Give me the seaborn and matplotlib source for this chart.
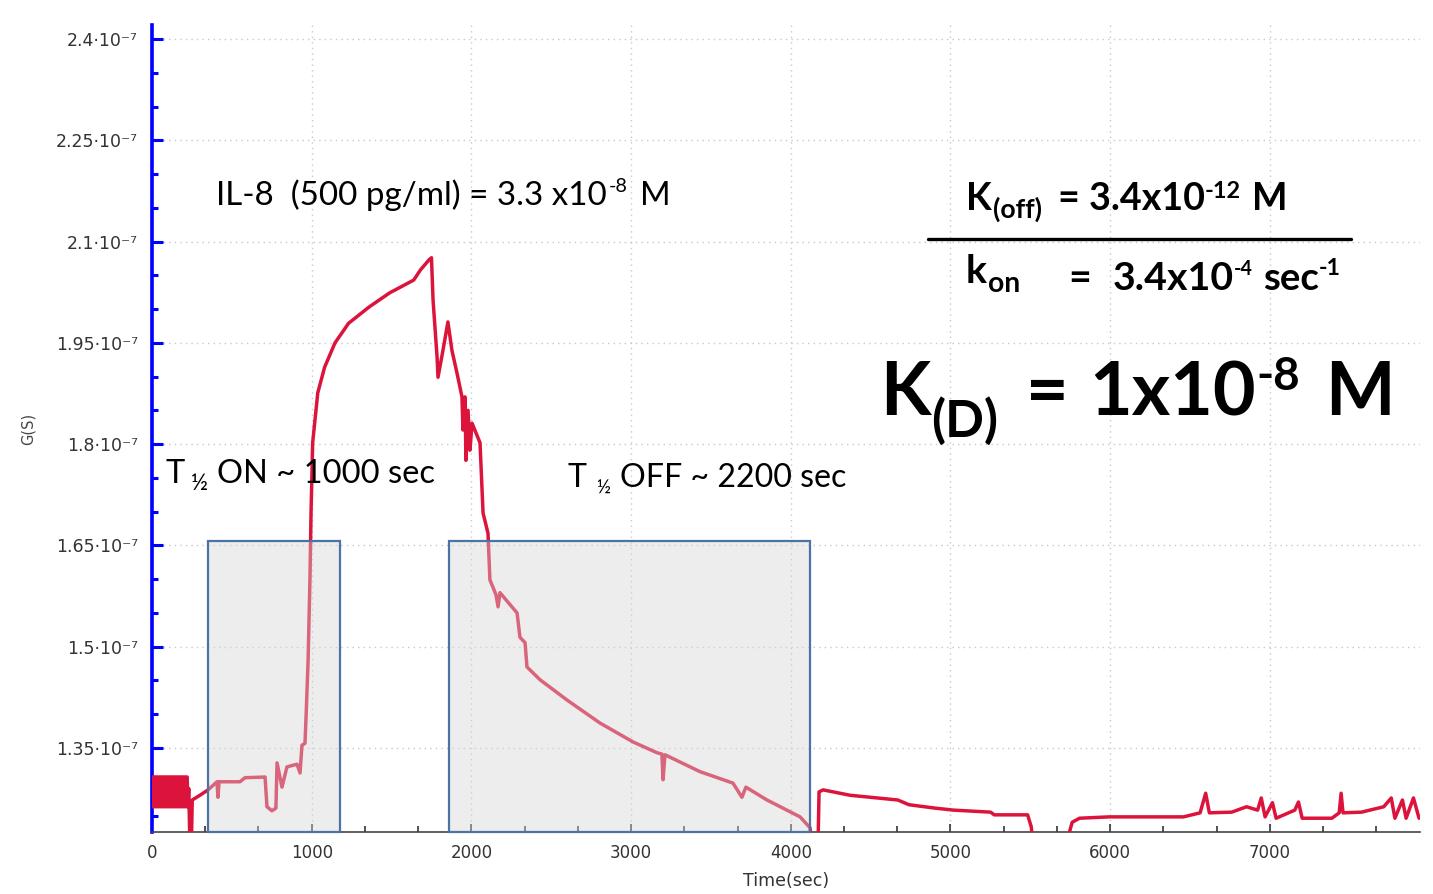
import matplotlib
matplotlib.use("Agg")
import matplotlib.pyplot as plt
import seaborn as sns
import pandas as pd
from matplotlib.patches import Rectangle
from matplotlib.ticker import FixedLocator, MultipleLocator

# ---------------- data (G in units of 1e-7 S) ----------------
time_sec = [
    0, 5, 10, 15, 20, 25, 30, 35, 40, 45, 50, 55, 60, 65, 70, 75, 80, 85, 90, 95, 100, 105, 110, 115,
    120, 125, 130, 135, 140, 145, 150, 155, 160, 165, 170, 175, 180, 185, 190, 195, 200, 205, 210, 215,
    220, 225, 230,
    238, 246, 252, 300, 351, 407, 413, 420, 551, 582, 708,
    720, 751, 776, 783, 814, 845, 908, 927, 939, 958, 964, 977, 989, 996,
    1006, 1038, 1081, 1146, 1231, 1359, 1488, 1639, 1681, 1735, 1750,
    1760, 1785, 1791, 1822, 1853, 1878, 1910, 1941, 1947, 1960, 1966, 1979, 1991, 2004,
    2054, 2073, 2104, 2116, 2154, 2167, 2179, 2286, 2304, 2336, 2348, 2430, 2599, 2805,
    3012, 3162, 3193, 3200, 3212, 3431, 3638, 3694, 3719, 3851, 4058, 4120, 4133, 4170,
    4177, 4202, 4371, 4670, 4740, 4902, 5019, 5251, 5274, 5483, 5506, 5518, 5715,
    5762, 5808, 5994, 6459, 6563, 6598, 6621, 6761, 6854, 6923, 6946, 6970, 7016,
    7039, 7156, 7179, 7202, 7388, 7434, 7446, 7458, 7574, 7713, 7760, 7783, 7830,
    7853, 7899, 7934,
]
conductance = [
    1.307, 1.263, 1.307, 1.263, 1.307, 1.263, 1.307, 1.263, 1.307, 1.263, 1.307, 1.263,
    1.307, 1.263, 1.307, 1.263, 1.307, 1.263, 1.307, 1.263, 1.307, 1.263, 1.307, 1.263,
    1.307, 1.263, 1.307, 1.263, 1.307, 1.263, 1.307, 1.263, 1.307, 1.263, 1.307, 1.263,
    1.307, 1.263, 1.307, 1.263, 1.307, 1.263, 1.307, 1.263, 1.307, 1.263, 1.290,
    1.200, 1.200, 1.273, 1.280, 1.288, 1.300, 1.277, 1.300, 1.300, 1.306, 1.307,
    1.263, 1.257, 1.261, 1.328, 1.292, 1.322, 1.326, 1.313, 1.354, 1.357, 1.392, 1.476, 1.599, 1.700,
    1.802, 1.876, 1.914, 1.950, 1.979, 2.003, 2.024, 2.043, 2.058, 2.073, 2.076,
    2.013, 1.929, 1.899, 1.939, 1.981, 1.939, 1.905, 1.870, 1.821, 1.870, 1.776, 1.850, 1.791, 1.831,
    1.802, 1.698, 1.668, 1.599, 1.577, 1.559, 1.580, 1.550, 1.514, 1.506, 1.470, 1.451, 1.421, 1.387,
    1.359, 1.343, 1.341, 1.303, 1.340, 1.315, 1.298, 1.277, 1.292, 1.273, 1.248, 1.232, 1.200, 1.200,
    1.285, 1.288, 1.280, 1.273, 1.266, 1.261, 1.258, 1.255, 1.251, 1.251, 1.233, 1.200, 1.200,
    1.240, 1.246, 1.248, 1.248, 1.254, 1.283, 1.254, 1.255, 1.263, 1.258, 1.276, 1.248, 1.269,
    1.246, 1.258, 1.270, 1.246, 1.246, 1.254, 1.283, 1.254, 1.255, 1.263, 1.276, 1.246, 1.273,
    1.246, 1.276, 1.246,
]
x_ticks = [0, 1000, 2000, 3000, 4000, 5000, 6000, 7000]
y_ticks = [1.35, 1.5, 1.65, 1.8, 1.95, 2.1, 2.25, 2.4]
y_tick_labels = ["1.35·10⁻⁷", "1.5·10⁻⁷", "1.65·10⁻⁷", "1.8·10⁻⁷",
                 "1.95·10⁻⁷", "2.1·10⁻⁷", "2.25·10⁻⁷", "2.4·10⁻⁷"]
on_window = (350, 1180)
off_window = (1860, 4120)
window_top = 1.657

df = pd.DataFrame({"Time(sec)": time_sec, "G(S)": conductance})

# ---------------- figure ----------------
sns.set_theme(style="white")
plt.rcParams["font.family"] = ["DejaVu Sans"]

W, H = 1433, 894
fig = plt.figure(figsize=(W / 100, H / 100), dpi=100)
ax = fig.add_axes([152 / W, 1 - 832 / H, (1420 - 152) / W, (832 - 25) / H])

sns.lineplot(data=df, x="Time(sec)", y="G(S)", sort=False, estimator=None,
             color="#dc143c", linewidth=2.5, ax=ax, zorder=3)

for (x0, x1) in (on_window, off_window):
    ax.add_patch(Rectangle((x0, 1.2256), x1 - x0, window_top - 1.2256,
                           facecolor="#d6d6d6", alpha=0.42, edgecolor="none", zorder=4))
    ax.add_patch(Rectangle((x0, 1.2256), x1 - x0, window_top - 1.2256,
                           facecolor="none", edgecolor="#4a74a4", linewidth=1.6, zorder=5,
                           clip_on=False))

ax.set_xlim(0, 7940)
ax.set_ylim(1.2256, 2.4207)

ax.xaxis.set_major_locator(FixedLocator(x_ticks))
ax.xaxis.set_minor_locator(MultipleLocator(1000 / 3))
ax.yaxis.set_major_locator(FixedLocator(y_ticks))
ax.yaxis.set_minor_locator(MultipleLocator(0.05))
ax.set_yticklabels(y_tick_labels)
ax.set_xticklabels([str(v) for v in x_ticks])

ax.grid(True, which="major", color="#c8c8c8", linestyle=(0, (1, 3)), linewidth=1.0)
for s in ("top", "right"):
    ax.spines[s].set_visible(False)
ax.spines["left"].set_color("#0000ff")
ax.spines["left"].set_linewidth(2.6)
ax.spines["bottom"].set_color("#444444")
ax.spines["bottom"].set_linewidth(1.2)

ax.tick_params(axis="y", which="major", direction="in", length=8, width=2.2,
               color="#0000ff", labelsize=12.5, labelcolor="#333333", pad=10, left=True)
ax.tick_params(axis="y", which="minor", direction="in", length=4, width=2.2,
               color="#0000ff", left=True)
ax.tick_params(axis="x", which="major", direction="in", length=6, width=1.2,
               color="#333333", labelsize=12, labelcolor="#333333", pad=9, bottom=True)
ax.tick_params(axis="x", which="minor", direction="in", length=4, width=1.2,
               color="#333333", bottom=True)

ax.set_xlabel("Time(sec)", fontsize=12.5, color="#333333", va="center")
ax.xaxis.set_label_coords(0.5, -0.0607)
ax.set_ylabel("G(S)", fontsize=10.5, color="#444444", va="center")
ax.yaxis.set_label_coords(-0.098, 0.5)

# ---------------- annotations ----------------
renderer = fig.canvas.get_renderer()


def place(text, left, baseline, right=None, weight="normal", size=None):
    """Put a text piece with its left edge at `left` px and baseline at `baseline` px.
    Without an explicit size, the font is sized so that the piece ends near `right` px.
    Returns the font size and the right edge (px) of the piece."""
    t = fig.text(left / W, 1 - baseline / H, text, fontsize=size or 20, va="baseline",
                 ha="left", family=["Lato", "DejaVu Sans"], fontweight=weight, color="black")
    if size is None:
        w = t.get_window_extent(renderer).width
        size = 20 * (right - left) / w
        t.set_fontsize(size)
    return size, t.get_window_extent(renderer).x1


# IL-8 line
s, _ = place("IL-8  (500 pg/ml) = 3.3 x10", 216, 205, right=607)
place("-8", 609, 192, right=628)
place("M", 640, 205, size=s)
# T1/2 ON
s, _ = place("ON ~ 1000 sec", 217, 483, right=435)
place("T", 165, 483, size=s)
place("\u00bd", 191, 490, right=208)
# T1/2 OFF
s, _ = place("OFF ~ 2200 sec", 620, 487, right=846)
place("T", 567, 487, size=s)
place("\u00bd", 596, 494, right=610)
# K(off)
s, _ = place("= 3.4x10", 1058, 210, right=1205, weight="bold")
_, kr = place("K", 966, 210, weight="bold", size=s)
place("(off)", kr + 1, 218, right=kr + 50, weight="bold")
place("-12", 1205, 198, right=1241, weight="bold")
place("M", 1252, 210, weight="bold", size=s)
fig.add_artist(plt.Line2D([928 / W, 1351 / W], [1 - 239 / H, 1 - 239 / H],
                          color="black", linewidth=2.4))
# k(on)
s, _ = place("3.4x10", 1113, 290, right=1234, weight="bold")
_, kr = place("k", 966, 283, weight="bold", size=s)
place("on", kr + 1, 292, right=kr + 33, weight="bold")
place("=", 1068, 290, weight="bold", size=s)
place("-4", 1234, 275, right=1253, weight="bold")
place("sec", 1263, 290, right=1319, weight="bold")
place("-1", 1319, 275, right=1341, weight="bold")
# K(D)
s, _ = place("1x10", 1089, 415, right=1256, weight="bold")
_, kr = place("K", 880, 415, weight="bold", size=s)
place("(D)", kr + 1, 437, right=kr + 68, weight="bold")
place("=", 1026, 415, weight="bold", size=s)
place("-8", 1256, 390, right=1300, weight="bold")
place("M", 1325, 415, weight="bold", size=s)

fig.savefig("out.png", dpi=100, facecolor="white")
